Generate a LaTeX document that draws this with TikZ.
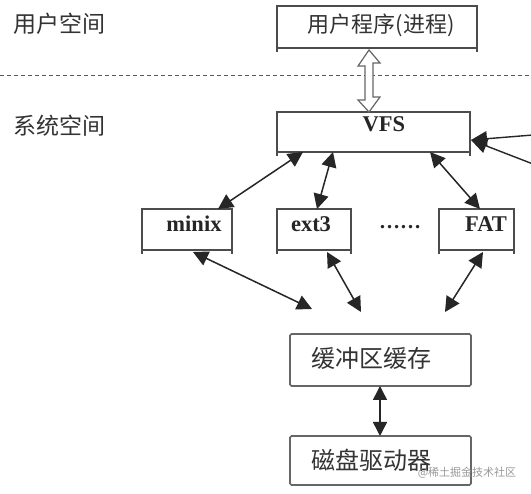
\documentclass[tikz,border=0pt]{standalone}
\usepackage{fontspec}
\setmainfont{Liberation Serif}
\newfontfamily\cjk{Noto Sans CJK SC}
\usetikzlibrary{arrows.meta,calc}
\begin{document}
\begin{tikzpicture}[x=1pt,y=-1pt,
 fsbox/.style={draw=black!70, line width=1.1pt, inner sep=0pt, outer sep=0pt},
 iobox/.style={draw=black!60, line width=1.6pt, rounded corners=1.5pt, inner sep=0pt, outer sep=0pt},
 zh/.style={font=\cjk\fontsize{22}{24}\selectfont, text=black!80, inner sep=0pt},
 en/.style={font=\bfseries\fontsize{22.5}{24}\selectfont, text=black!85, inner sep=0pt},
 link/.style={line width=1.5pt, draw=black!85, <->, >={Triangle[length=15pt,width=15pt]}},
 tick/.style={draw=black!70, line width=1.1pt},
 dashline/.style={draw=black!65, line width=1pt, dash pattern=on 4pt off 3pt},
 hollow/.style={draw=black!60, fill=white, line width=1.2pt, line join=miter},
 ]
\fill[white] (0,0) rectangle (531,494);
\useasboundingbox (0,0) rectangle (531,494);

% space labels and separator
\node[zh, font=\cjk\fontsize{23}{25}\selectfont] (uspace) at (59,24) {用户空间};
\node[zh, font=\cjk\fontsize{23}{25}\selectfont] (sspace) at (59,126) {系统空间};
\draw[dashline] (0,76) -- (531,76);

% boxes
\node[fsbox, minimum width=200pt, minimum height=42pt] (user) at (377,27) {};
\node[zh] (usert) at (381,25) {用户程序(进程)};
\node[fsbox, minimum width=193pt, minimum height=40pt] (vfs) at (373.5,132) {};
\node[en] (vfst) at (384,124) {VFS};

\node[fsbox, minimum width=90pt, minimum height=41pt] (minix) at (187,229.5) {};
\node[en] (minixt) at (194,224) {minix};
\node[fsbox, minimum width=74pt, minimum height=41pt] (ext3) at (314,229.5) {};
\node[en] (ext3t) at (311,224) {ext3};
\node[en, font=\bfseries\fontsize{21}{23}\selectfont] (dots) at (400,227) {……};
\node[fsbox, minimum width=75pt, minimum height=41pt] (fat) at (476.5,229.5) {};
\node[en] (fatt) at (486,224) {FAT};

\foreach \n in {user,vfs,minix,ext3,fat}{
  \draw[tick] (\n.south west) -- ++(0,4);
  \draw[tick] (\n.south east) -- ++(0,4);
}

\node[iobox, minimum width=181pt, minimum height=52pt] (buf) at (380.5,360) {};
\node[zh, font=\cjk\fontsize{24}{26}\selectfont] (buft) at (371.5,358) {缓冲区缓存};
\node[iobox, minimum width=181pt, minimum height=49pt] (disk) at (380.5,460.5) {};
\node[zh, font=\cjk\fontsize{24}{26}\selectfont] (diskt) at (371.5,460) {磁盘驱动器};

% hollow double arrow between user program and VFS
\draw[hollow] (user.south -| 369,0) ++(0,2) coordinate (ha)
  -- ++(11,13) -- ++(-7,0) -- ++(0,34) -- ++(7,0) -- (369,112) coordinate (hb)
  -- ++(-11,-12) -- ++(7,0) -- ++(0,-34) -- ++(-7,0) -- cycle;

% VFS to file systems
\draw[link] ($(vfs.south west)+(26,0)$) -- ($(minix.north west)+(76,0)$);
\draw[link] ($(vfs.south west)+(56,0)$) -- ($(ext3.north west)+(40,0)$);
\draw[link] ($(vfs.south west)+(153,0)$) -- ($(fat.north west)+(41,0)$);

% file systems to buffer cache
\coordinate (m1) at (312,309);
\coordinate (m2) at (361,312);
\coordinate (m3) at (445,312);
\draw[link] ($(minix.south west)+(51,2)$) -- (m1);
\draw[link] ($(ext3.south west)+(50,2)$) -- (m2);
\draw[link] ($(fat.south west)+(44,2)$) -- (m3);

% incoming arrows on the right
\coordinate (r1) at (533,135);
\coordinate (r2) at (533,164);
\coordinate (rt) at ($(vfs.south east)+(1,-12)$);
\draw[line width=1.4pt, draw=black!85, -{Triangle[length=16pt,width=15pt]}] (r1) -- (rt);
\draw[line width=1.4pt, draw=black!85, -{Triangle[length=16pt,width=15pt]}] (r2) -- (rt);

% buffer cache to disk driver
\draw[link, >={Triangle[length=14pt,width=14pt]}] (buf.south -| 380,0) -- (disk.north -| 380,0);

% watermark
\node[font=\cjk\fontsize{11}{12}\selectfont, text=black!40, inner sep=0pt] (wm) at (467,473) {@稀土掘金技术社区};
\end{tikzpicture}
\end{document}
